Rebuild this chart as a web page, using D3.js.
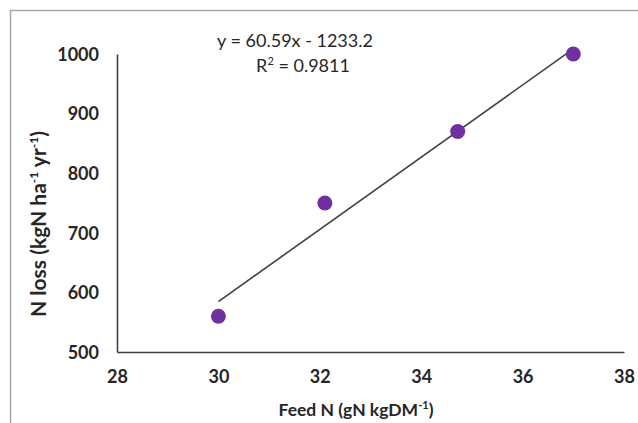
<!DOCTYPE html>
<html><head><meta charset="utf-8">
<script src="https://cdn.jsdelivr.net/npm/d3@7"></script>
<style>body{margin:0;background:#fff}svg{display:block}</style>
</head><body>
<script>
const feedN = [30, 32.1, 34.72, 37];
const nLoss = [560, 750, 870, 1000];
const xTicks = [28, 30, 32, 34, 36, 38];
const yTicks = [500, 600, 700, 800, 900, 1000];
const slope = 60.59, intercept = -1233.2;
const eqText = "y = 60.59x - 1233.2";
const r2Text = "0.9811";

const W = 638, H = 423;
const svg = d3.select("body").append("svg").attr("width", W).attr("height", H);
const font = "Lato, 'Open Sans', sans-serif";

svg.append("rect").attr("x", 10.5).attr("y", 10.5).attr("width", 700).attr("height", 500)
  .attr("fill", "none").attr("stroke", "#a6a6a6").attr("stroke-width", 1.5);

const x = d3.scaleLinear().domain([28, 38]).range([117, 624]);
const y = d3.scaleLinear().domain([500, 1000]).range([352, 54]);

// axes
const xAxis = svg.append("g").attr("transform", `translate(0,${y(500)})`)
  .call(d3.axisBottom(x).tickValues(xTicks).tickSize(0).tickPadding(18).tickFormat(d3.format("d")));
const yAxis = svg.append("g").attr("transform", `translate(${x(28)},0)`)
  .call(d3.axisLeft(y).tickValues(yTicks).tickSize(0).tickPadding(18).tickFormat(d3.format("d")));
[xAxis, yAxis].forEach(g => {
  g.select(".domain").attr("stroke", "#404040").attr("stroke-width", 1.6);
  g.selectAll("text").attr("font-family", font).attr("font-weight", "bold")
    .attr("font-size", 18).attr("fill", "#262626");
});
yAxis.selectAll("text").attr("dy", "0.35em");

// trendline
const x0 = d3.min(feedN), x1 = d3.max(feedN);
svg.append("line")
  .attr("x1", x(x0)).attr("y1", y(slope * x0 + intercept))
  .attr("x2", x(x1)).attr("y2", y(slope * x1 + intercept))
  .attr("stroke", "#404040").attr("stroke-width", 1.6);

// points
svg.selectAll("circle.pt").data(feedN).join("circle").attr("class", "pt")
  .attr("cx", d => x(d)).attr("cy", (d, i) => y(nLoss[i])).attr("r", 7.5)
  .attr("fill", "#7030a0");

// equation
svg.append("text").attr("x", 295).attr("y", 47).attr("text-anchor", "middle")
  .attr("font-family", font).attr("font-size", 18).attr("fill", "#262626").text(eqText);
const r2 = svg.append("text").attr("x", 303).attr("y", 72).attr("text-anchor", "middle")
  .attr("font-family", font).attr("font-size", 18).attr("fill", "#262626");
r2.append("tspan").text("R");
r2.append("tspan").attr("font-size", 11).attr("dy", -7).text("2");
r2.append("tspan").attr("dy", 7).text(" = " + r2Text);

// axis titles
const xt = svg.append("text").attr("x", 356).attr("y", 416).attr("text-anchor", "middle")
  .attr("font-family", font).attr("font-weight", "bold").attr("font-size", 17.5).attr("fill", "#262626");
xt.append("tspan").text("Feed N (gN kgDM");
xt.append("tspan").attr("font-size", 11).attr("dy", -7).text("-1");
xt.append("tspan").attr("dy", 7).text(")");

const yt = svg.append("text").attr("transform", `translate(46,${224}) rotate(-90)`).attr("text-anchor", "middle")
  .attr("font-family", font).attr("font-weight", "bold").attr("font-size", 21).attr("fill", "#262626");
yt.append("tspan").text("N loss (kgN ha");
yt.append("tspan").attr("font-size", 12).attr("dy", -8).text("-1");
yt.append("tspan").attr("dy", 8).text(" yr");
yt.append("tspan").attr("font-size", 12).attr("dy", -8).text("-1");
yt.append("tspan").attr("dy", 8).text(")");
</script>
</body></html>
